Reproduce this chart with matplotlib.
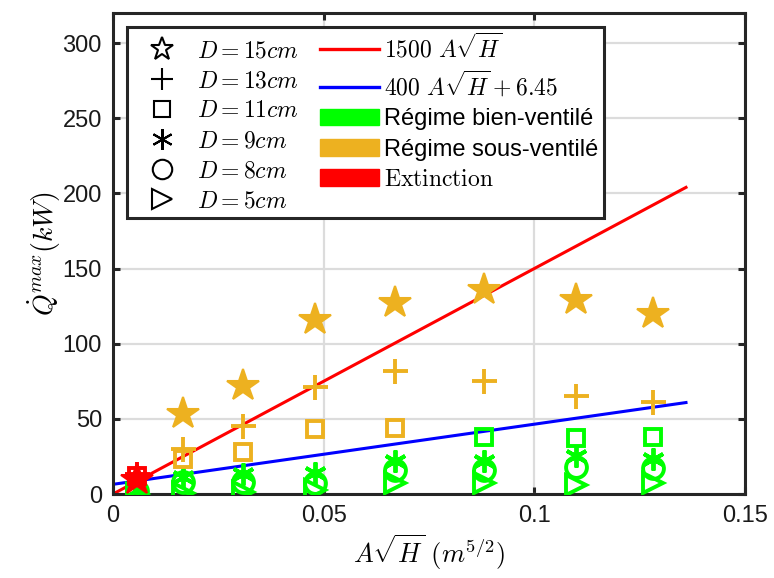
import matplotlib
matplotlib.use("Agg")
import matplotlib.pyplot as plt
from matplotlib.lines import Line2D
from matplotlib.patches import Patch

plt.rcParams['font.family'] = ['Liberation Sans', 'DejaVu Sans']
plt.rcParams['mathtext.fontset'] = 'cm'

# ===== donnees =====
x_vals = [0.0057, 0.0166, 0.0309, 0.048, 0.0669, 0.0881, 0.1099, 0.1282]

q_d15 = [9, 53, 72, 116, 127, 136, 129, 120]
q_d13 = [13, 30, 45, 71, 82, 75, 65, 61]
q_d11 = [12, 23, 28, 43, 44, 38, 37, 38]
q_d9 = [3, 11, 13, 14, 22, 22, 25, 23]
q_d8 = [2, 8, 8, 7, 16, 16, 18, 17]
q_d5 = [0, 1, 1.5, 2.5, 7, 7, 6, 7]

# E = extinction, S = sous-ventile, B = bien-ventile
reg_d15 = ['E', 'S', 'S', 'S', 'S', 'S', 'S', 'S']
reg_d13 = ['E', 'S', 'S', 'S', 'S', 'S', 'S', 'S']
reg_d11 = ['E', 'S', 'S', 'S', 'S', 'B', 'B', 'B']
reg_d9 = ['B'] * 8
reg_d8 = ['B'] * 8
reg_d5 = ['B'] * 8

fit_x = [0, 0.136]
fit_red = [1500 * v for v in fit_x]
fit_blue = [400 * v + 6.45 for v in fit_x]

colors = {'B': '#00FF00', 'S': '#EDB120', 'E': '#FF0000'}

fig = plt.figure(figsize=(7.74, 5.78), dpi=100)
ax = fig.add_axes([0.146, 0.1453, 0.8165, 0.8322])

ax.plot(fit_x, fit_red, color='#FF0000', lw=2.2, zorder=2)
ax.plot(fit_x, fit_blue, color='#0000FF', lw=2.2, zorder=2)

# (valeurs, regimes, marqueur, taille, rempli)
series = [
    (q_d5, reg_d5, '>', 15, False),
    (q_d8, reg_d8, 'o', 15, False),
    (q_d9, reg_d9, (6, 2, 0), 16, False),
    (q_d11, reg_d11, 's', 12, False),
    (q_d13, reg_d13, '+', 18, False),
    (q_d15, reg_d15, '*', 24, True),
]

for order in ['B', 'S', 'E']:
    for ys, regs, mk, ms, filled in series:
        xs = [x for x, r in zip(x_vals, regs) if r == order]
        yy = [y for y, r in zip(ys, regs) if r == order]
        if not xs:
            continue
        ax.plot(xs, yy, linestyle='none', marker=mk, markersize=ms,
                markerfacecolor=colors[order] if filled else 'none',
                markeredgecolor=colors[order],
                markeredgewidth=1.5 if filled else 2.8, zorder=3)

ax.set_xlim(0, 0.15)
ax.set_ylim(0, 320)
ax.set_xticks([0, 0.05, 0.1, 0.15])
ax.set_xticklabels(['0', '0.05', '0.1', '0.15'])
ax.set_yticks([0, 50, 100, 150, 200, 250, 300])

ax.grid(True, color='#dcdcdc', lw=1.6)
ax.set_axisbelow(True)
for s in ax.spines.values():
    s.set_linewidth(2.2)
    s.set_color('#262626')
ax.tick_params(direction='in', length=5, width=2.2, color='#262626',
               labelsize=17, top=True, right=True, pad=8, labelcolor='#1a1a1a')

ax.set_xlabel(r'$A\sqrt{H}\ (m^{5/2})$', fontsize=19, labelpad=4)
ax.set_ylabel(r'$\dot{Q}^{max}(kW)$', fontsize=20, labelpad=0)

# legende
def mk_handle(m, ms):
    return Line2D([], [], linestyle='none', marker=m, markersize=ms,
                  markerfacecolor='none', markeredgecolor='black', markeredgewidth=1.5)

handles = [
    mk_handle('*', 17), mk_handle('+', 16), mk_handle('s', 11),
    mk_handle((6, 2, 0), 15), mk_handle('o', 14), mk_handle('>', 14),
    Line2D([], [], color='#FF0000', lw=2.4),
    Line2D([], [], color='#0000FF', lw=2.4),
    Patch(color='#00FF00'), Patch(color='#EDB120'), Patch(color='#FF0000'),
]
labels = [
    r'$D=15cm$', r'$D=13cm$', r'$D=11cm$', r'$D=9cm$', r'$D=8cm$', r'$D=5cm$',
    r'$1500\ A\sqrt{H}$', r'$400\ A\sqrt{H}+6.45$',
    'Régime bien-ventilé', 'Régime sous-ventilé', r'$\mathrm{Extinction}$',
]
leg = ax.legend(handles, labels, ncol=2, loc='upper left',
                bbox_to_anchor=(0.022, 0.971), borderaxespad=0,
                fontsize=17, fancybox=False, framealpha=1, edgecolor='#262626',
                handlelength=2.5, handletextpad=0.2, borderpad=0.25,
                columnspacing=0.9, labelspacing=0.34)
leg.get_frame().set_linewidth(2.2)

fig.savefig('out.png', dpi=100)
